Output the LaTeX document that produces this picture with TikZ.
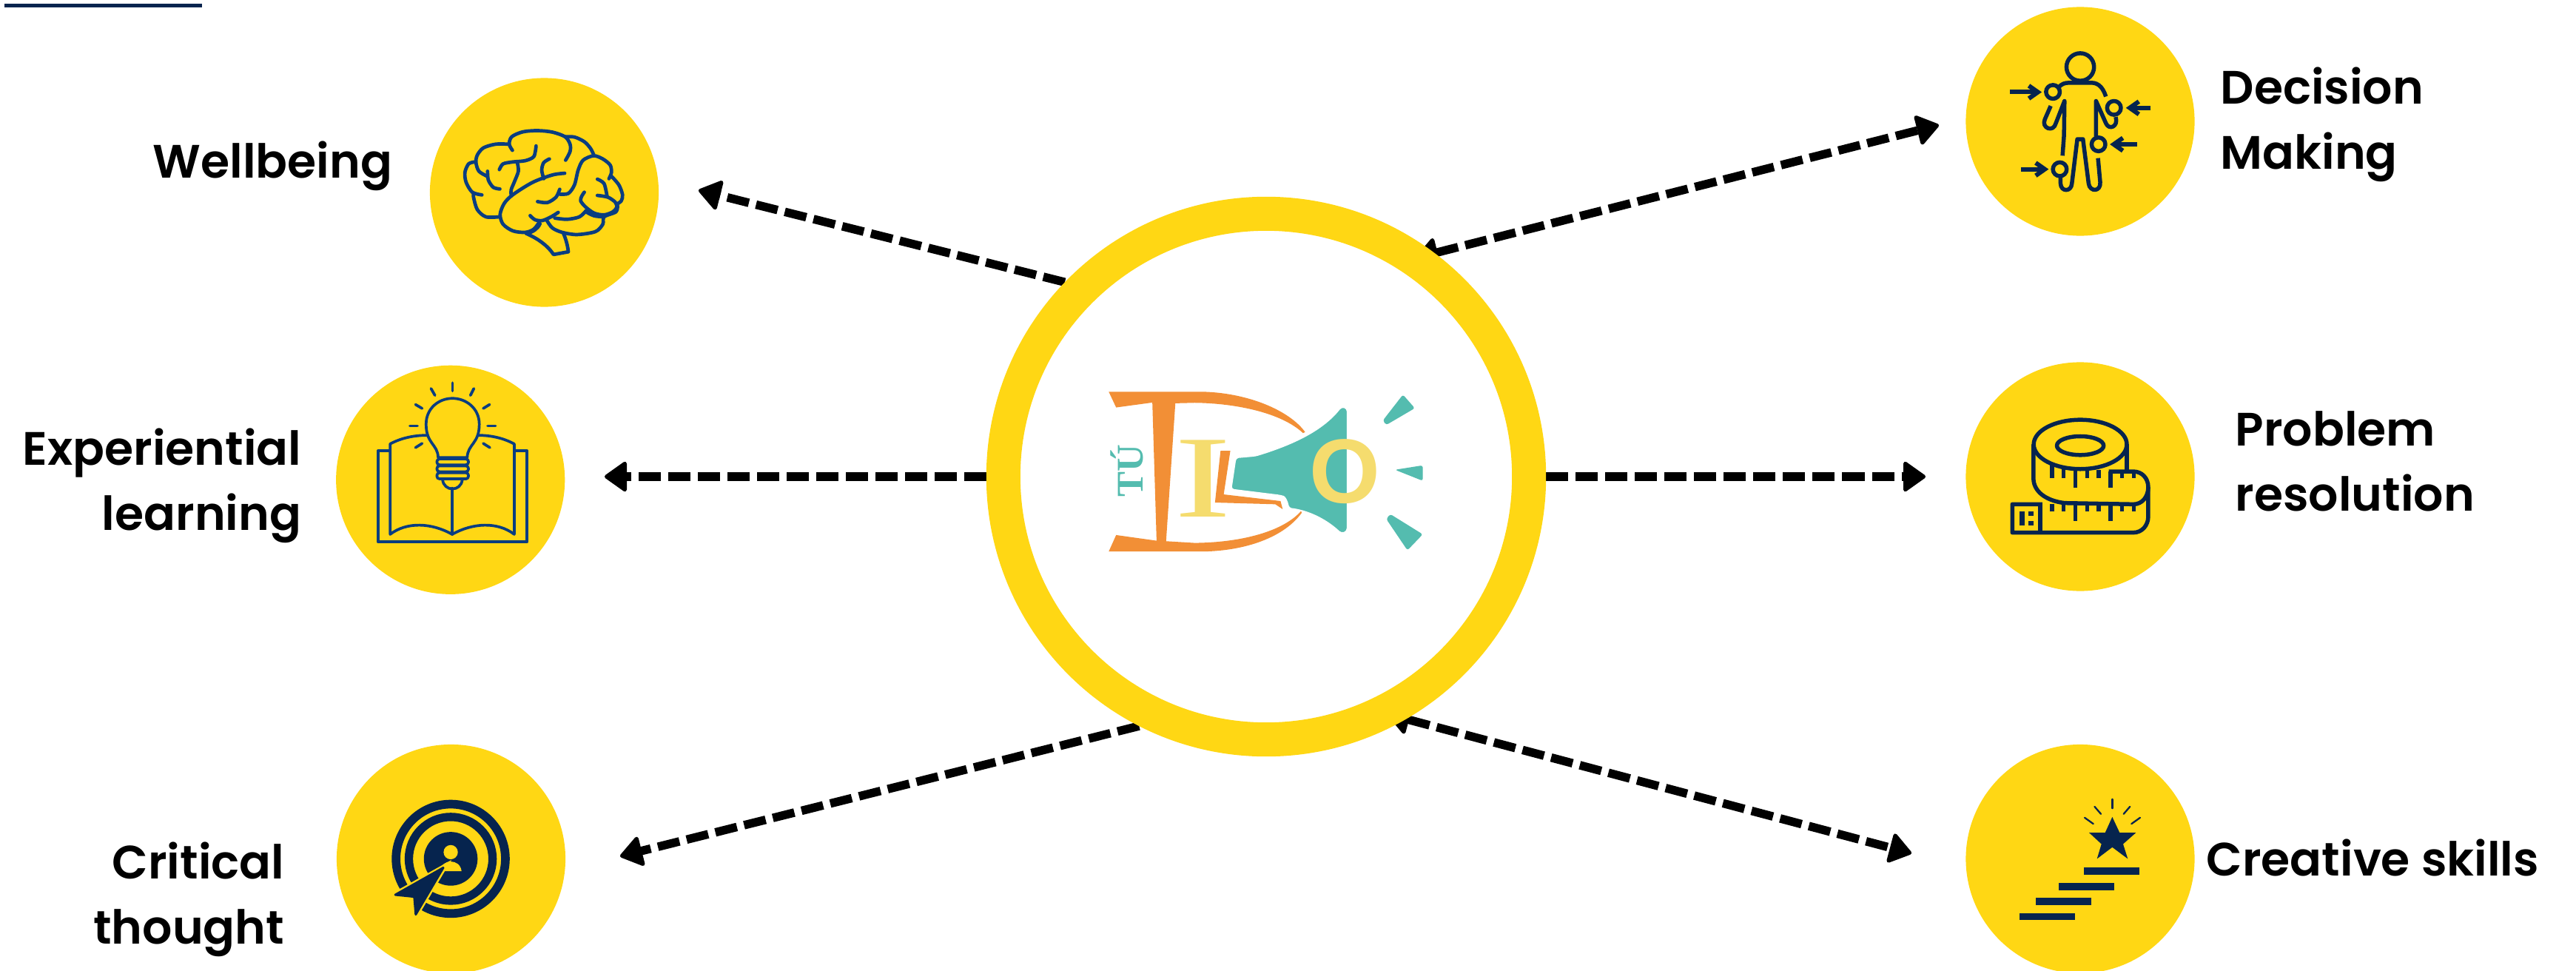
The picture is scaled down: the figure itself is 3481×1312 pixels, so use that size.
\documentclass[tikz,border=0pt]{standalone}
\usepackage{fontspec}
\setmainfont{Liberation Serif}
\newfontfamily\poppinsfont{Poppins SemiBold}
\newfontfamily\logosans{Liberation Sans}
\usetikzlibrary{arrows.meta,backgrounds}

\definecolor{badgeyellow}{HTML}{FFD714}
\definecolor{brainblue}{HTML}{0A3D80}
\definecolor{inknavy}{HTML}{06244E}
\definecolor{logoorange}{HTML}{F28F36}
\definecolor{logoteal}{HTML}{54BCAF}
\definecolor{logosand}{HTML}{F5DC6E}

\begin{document}
\begin{tikzpicture}[
    x=0.01cm, y=-0.01cm,
    badge/.style={circle, fill=badgeyellow, minimum size=3.09cm, inner sep=0pt},
    hubring/.style={circle, draw=badgeyellow, fill=white, line width=0.46cm, minimum size=7.10cm, inner sep=0pt},
    tagtext/.style={font=\poppinsfont\fontsize{18}{25}\selectfont, inner sep=0pt},
    arrow/.style={-{Triangle[length=0.32cm, width=0.44cm, line width=1.5pt, round]}, line width=0.115cm, dash pattern=on 0.30cm off 0.10cm},
    twoway/.style={{Triangle[length=0.32cm, width=0.44cm, line width=1.5pt, round]}-{Triangle[length=0.32cm, width=0.44cm, line width=1.5pt, round]}, line width=0.115cm, dash pattern=on 0.30cm off 0.10cm, shorten <=-0.26cm},
    brainline/.style={draw=brainblue, line width=0.047cm, line cap=round, line join=round},
    bulbline/.style={draw=brainblue, line width=0.037cm, line cap=round, line join=round},
    navyline/.style={draw=inknavy, line width=0.055cm, line join=round}
]
\useasboundingbox (0,0) rectangle (3481,1312);

% Stray rule in the corner
\draw[inknavy, line width=0.045cm] (6,7.5) -- (273,7.5);

% Hub
\node[hubring] (hub) at (1711,644) {};

% Badges
\node[badge] (well) at (735.5,260) {};
\node[badge] (expl) at (608.7,648.3) {};
\node[badge] (crit) at (609.5,1160.5) {};
\node[badge] (deci) at (2811,164) {};
\node[badge] (prob) at (2811,644) {};
\node[badge] (crea) at (2811,1160.5) {};

% Labels
\node[tagtext, anchor=east] (welltxt) at (531,224) {Wellbeing};
\node[tagtext, anchor=east, align=right] (expltxt) at (408,656) {Experiential\\learning};
\node[tagtext, anchor=east, align=right] (crittxt) at (385,1215) {Critical\\thought};
\node[tagtext, anchor=west, align=left] (decitxt) at (3000,168) {Decision\\Making};
\node[tagtext, anchor=west, align=left] (probtxt) at (3020,623) {Problem\\resolution};
\node[tagtext, anchor=west] (creatxt) at (2981,1159) {Creative skills};

% Arrow ends
\coordinate (wellend) at (944,257);
\coordinate (explend) at (817,644);
\coordinate (critend) at (838,1157);
\coordinate (deciend) at (2620,169);
\coordinate (probend) at (2602,644);
\coordinate (creaend) at (2583,1153);

% Arrows
\begin{scope}[on background layer]
\draw[arrow] (hub.136.4) -- (wellend);
\draw[arrow] (hub.180) -- (explend);
\draw[arrow] (hub.243.7) -- (critend);
\draw[twoway] (hub.53.2) -- (deciend);
\draw[arrow] (hub.0) -- (probend);
\draw[twoway] (hub.300.3) -- (creaend);
\end{scope}

% Logo
\begin{scope}[shift={(1400,480)}, x=0.00357cm, y=-0.00333cm]
\fill[logoorange] (275,148) -- (620,148) .. controls (800,150) and (960,225) .. (1018,312) -- (1010,316)
  .. controls (930,235) and (760,195) .. (600,193) -- (527,195) -- (492,755) -- (600,762)
  .. controls (790,760) and (940,710) .. (1003,632) -- (1005,640) .. controls (930,750) and (770,797) .. (620,797)
  -- (275,797) -- (303,730) -- (456,753) -- (440,192) -- (303,212) -- cycle;
\node[text=logoteal, font=\bfseries\fontsize{14.5}{16}\selectfont, rotate=90, anchor=base, inner sep=0pt] (tu) at (405,470) {TÚ};
\node[text=logosand, font=\fontsize{45}{50}\selectfont, anchor=base, inner sep=0pt] (lettri) at (632,657) {\scalebox{1.45}[1]{I}};
\fill[logoorange] (698,388) -- (735,388) -- (710,565) -- (925,592) -- (933,625) -- (905,605) -- (677,598) -- cycle;
\fill[logoteal, draw=white, line width=0.02cm, rounded corners=0.04cm] (755,415) -- (830,408)
  .. controls (960,365) and (1080,310) .. (1155,208) -- (1178,215) -- (1178,715) -- (1155,725)
  .. controls (1090,660) and (1020,630) .. (955,622) .. controls (950,590) and (940,575) .. (925,570) -- (737,545) -- cycle;
\fill[logoteal, rounded corners=0.03cm] (1312,265) -- (1388,160) -- (1433,215) -- (1325,283) -- cycle;
\fill[logoteal, rounded corners=0.03cm] (1358,465) -- (1463,447) -- (1463,510) -- cycle;
\fill[logoteal, rounded corners=0.03cm] (1325,665) -- (1340,645) -- (1463,727) -- (1405,792) -- cycle;
\node[text=logosand, font=\logosans\bfseries\fontsize{35}{40}\selectfont, inner sep=0pt] (letto) at (1167,473) {O};
\end{scope}

% Brain icon
\begin{scope}[shift={(560,80)}, x=0.00333cm, y=-0.00333cm]
\draw[brainline] plot[smooth] coordinates {(398,370) (385,345) (395,315) (440,295) (500,290) (560,296) (612,315) (632,345) (632,375) (614,410)};
\draw[brainline] plot[smooth] coordinates {(612,315) (650,316) (690,335) (715,362) (728,388)};
\draw[brainline] plot[smooth] coordinates {(590,548) (625,545) (650,510) (665,450) (685,410) (728,392) (765,405) (795,430) (800,460) (790,485)};
\draw[brainline] plot[smooth] coordinates {(500,578) (540,582) (575,560) (590,528)};
\draw[brainline] plot[smooth] coordinates {(800,475) (830,510) (845,550) (840,575) (820,590)};
\draw[brainline] plot[smooth] coordinates {(743,487) (770,505) (782,555)};
\draw[brainline] plot[smooth] coordinates {(743,553) (785,560) (815,580) (822,600) (805,620) (770,632) (730,625) (695,600) (675,575) (680,555) (690,540)};
\draw[brainline] plot[smooth] coordinates {(825,595) (818,620) (770,640) (765,670) (735,700) (660,712) (600,703) (560,685) (538,655)};
\draw[brainline] plot[smooth] coordinates {(470,635) (490,652) (520,655) (555,640) (584,622)};
\draw[brainline] plot[smooth] coordinates {(570,645) (620,650) (670,640) (697,615)};
\draw[brainline] plot[smooth] coordinates {(697,620) (730,636) (770,640)};
\draw[brainline] plot[smooth] coordinates {(610,463) (560,470) (480,500) (400,550) (365,585) (348,630) (360,670) (400,697) (450,703) (485,690) (508,660)};
\draw[brainline] plot[smooth] coordinates {(345,640) (290,640) (255,610) (240,560) (240,545)};
\draw[brainline] plot[smooth] coordinates {(274,551) (235,540) (210,500) (205,460) (220,425) (245,417)};
\draw[brainline] plot[smooth] coordinates {(382,345) (330,345) (280,360) (255,390) (250,420) (262,455) (295,475)};
\draw[brainline] plot[smooth] coordinates {(297,455) (300,490) (320,520) (347,527)};
\draw[brainline] plot[smooth] coordinates {(345,448) (360,425) (400,417) (450,412) (485,395) (494,352)};
\draw[brainline] plot[smooth] coordinates {(418,420) (422,455) (405,500) (393,530) (393,555)};
\draw[brainline] plot[smooth] coordinates {(548,405) (525,420) (517,450) (525,485)};
\draw[brainline] (455,708) .. controls (500,728) and (540,755) .. (565,793) -- (625,782) .. controls (622,755) and (615,730) .. (605,707);
\draw[brainline] (510,668) .. controls (500,690) and (480,702) .. (455,708);
\end{scope}

% Book and bulb icon
\begin{scope}[shift={(440,480)}, x=0.00333cm, y=-0.00333cm]
\draw[bulbline] (258,388) -- (213,388) -- (213,758) -- (818,758) -- (818,388) -- (770,388);
\draw[bulbline] (412,325) .. controls (355,325) and (305,337) .. (262,360) -- (262,727) .. controls (330,675) and (430,680) .. (514,727)
  .. controls (598,680) and (698,675) .. (766,727) -- (766,360) .. controls (723,337) and (673,325) .. (620,325);
\draw[bulbline] (514,540) -- (514,727);
\draw[bulbline] (457,415) .. controls (455,360) and (408,360) .. (408,280) .. controls (408,215) and (460,175) .. (515,175)
  .. controls (570,175) and (624,215) .. (624,280) .. controls (624,360) and (577,360) .. (575,415) -- cycle;
\draw[bulbline, rounded corners=0.035cm] (452,421) rectangle (580,445);
\draw[bulbline, rounded corners=0.035cm] (452,449) rectangle (580,473);
\draw[bulbline, rounded corners=0.035cm] (452,477) rectangle (580,502);
\draw[bulbline] (475,505) .. controls (480,555) and (550,555) .. (555,505);
\foreach \xa/\ya/\xb/\yb in {515/112/515/145, 428/135/444/163, 602/135/588/163, 365/200/392/216, 666/200/640/216, 342/287/373/287, 658/287/690/287, 392/358/365/375, 640/358/667/375}
  \draw[bulbline] (\xa,\ya) -- (\xb,\yb);
\end{scope}

% Target icon
\begin{scope}[shift={(440,1000)}, x=0.00333cm, y=-0.00333cm]
\draw[inknavy, line width=0.117cm] (508,482) circle (222);
\draw[inknavy, line width=0.113cm] (508,482) circle (170);
\fill[inknavy] (508,482) circle (109);
\fill[badgeyellow] (508,455) circle (29);
\fill[badgeyellow] (465,532) .. controls (470,480) and (546,480) .. (552,532) -- cycle;
\fill[badgeyellow, draw=badgeyellow, line width=0.07cm] (482,515) -- (280,628) -- (365,712) -- cycle;
\fill[inknavy, draw=inknavy, line width=0.03cm, line join=round] (478,518) -- (283,628) -- (360,636) -- (366,708) -- cycle;
\end{scope}

% Person icon
\begin{scope}[shift={(2650,10)}, x=0.00333cm, y=-0.00333cm]
\draw[navyline] (484,242) circle (56);
\draw[navyline] (395,325) .. controls (410,310) and (420,306) .. (440,306) -- (530,306) .. controls (560,306) and (578,330) .. (588,362);
\draw[navyline] (373,343) circle (28);
\draw[navyline] (621,408) circle (28);
\draw[navyline] (558,556) circle (28);
\draw[navyline] (401,657) circle (28);
\draw[navyline] (364,400) -- (340,455) .. controls (325,490) and (375,510) .. (385,470) -- (420,380) -- (418,520) -- (412,602);
\draw[navyline] (548,525) -- (548,380) -- (588,470) .. controls (600,500) and (640,485) .. (628,445);
\draw[navyline] (404,685) -- (404,715) .. controls (405,750) and (448,750) .. (450,715) -- (472,535) -- (495,535) -- (518,715) .. controls (522,750) and (568,750) .. (565,710) -- (556,612);
\draw[inknavy, line width=0.06cm] (198,344) -- (310,344);
\draw[inknavy, line width=0.06cm] (275,318) -- (312,344) -- (275,370);
\draw[inknavy, line width=0.06cm] (770,408) -- (685,408);
\draw[inknavy, line width=0.06cm] (722,382) -- (685,408) -- (722,434);
\draw[inknavy, line width=0.06cm] (714,556) -- (620,556);
\draw[inknavy, line width=0.06cm] (657,530) -- (620,556) -- (657,582);
\draw[inknavy, line width=0.06cm] (244,657) -- (340,657);
\draw[inknavy, line width=0.06cm] (303,631) -- (340,657) -- (303,683);
\end{scope}

% Tape icon
\begin{scope}[shift={(2650,480)}, x=0.00333cm, y=-0.00333cm]
\draw[navyline] (484,362) ellipse (189 and 100);
\draw[navyline] (484,367) ellipse (95 and 38);
\draw[navyline] (294,362) -- (294,500) .. controls (294,550) and (340,590) .. (420,600) -- (700,605) .. controls (735,605) and (760,575) .. (760,535) .. controls (760,500) and (735,472) .. (700,472) -- (600,472);
\draw[navyline] (673,362) -- (673,472);
\draw[navyline] (330,605) -- (208,605) -- (208,720) -- (700,720) .. controls (735,720) and (760,690) .. (760,655) -- (760,535);
\draw[navyline] (322,605) -- (322,720);
\foreach \tx/\ta/\tb in {369/445/500, 416/458/500, 464/465/538, 512/465/500, 559/465/500, 607/472/538, 654/472/500, 702/472/500}
  \draw[navyline] (\tx,\ta) -- (\tx,\tb);
\foreach \tx/\tb in {369/634, 416/634, 464/672, 512/634, 559/634, 607/672, 654/634, 702/634}
  \draw[navyline] (\tx,605) -- (\tx,\tb);
\fill[inknavy] (237,634) rectangle (257,692);
\fill[inknavy] (273,634) rectangle (293,653);
\fill[inknavy] (273,672) rectangle (293,692);
\end{scope}

% Star icon
\begin{scope}[shift={(2650,1000)}, x=0.00333cm, y=-0.00333cm]
\fill[inknavy] (614,312) -- (644,376) -- (710,376) -- (658,422) -- (677,482) -- (614,435) -- (552,482) -- (570,422) -- (520,376) -- (585,376) -- cycle;
\foreach \xa/\ya/\xb/\yb in {614/240/614/277, 542/270/568/300, 686/270/660/300, 502/315/537/340, 727/315/692/340}
  \draw[inknavy, line width=0.023cm, line cap=round] (\xa,\ya) -- (\xb,\yb);
\fill[inknavy] (498,516) rectangle (723,546);
\fill[inknavy] (396,579) rectangle (621,609);
\fill[inknavy] (303,639) rectangle (528,669);
\fill[inknavy] (237,702) rectangle (462,729);
\end{scope}

\end{tikzpicture}
\end{document}
